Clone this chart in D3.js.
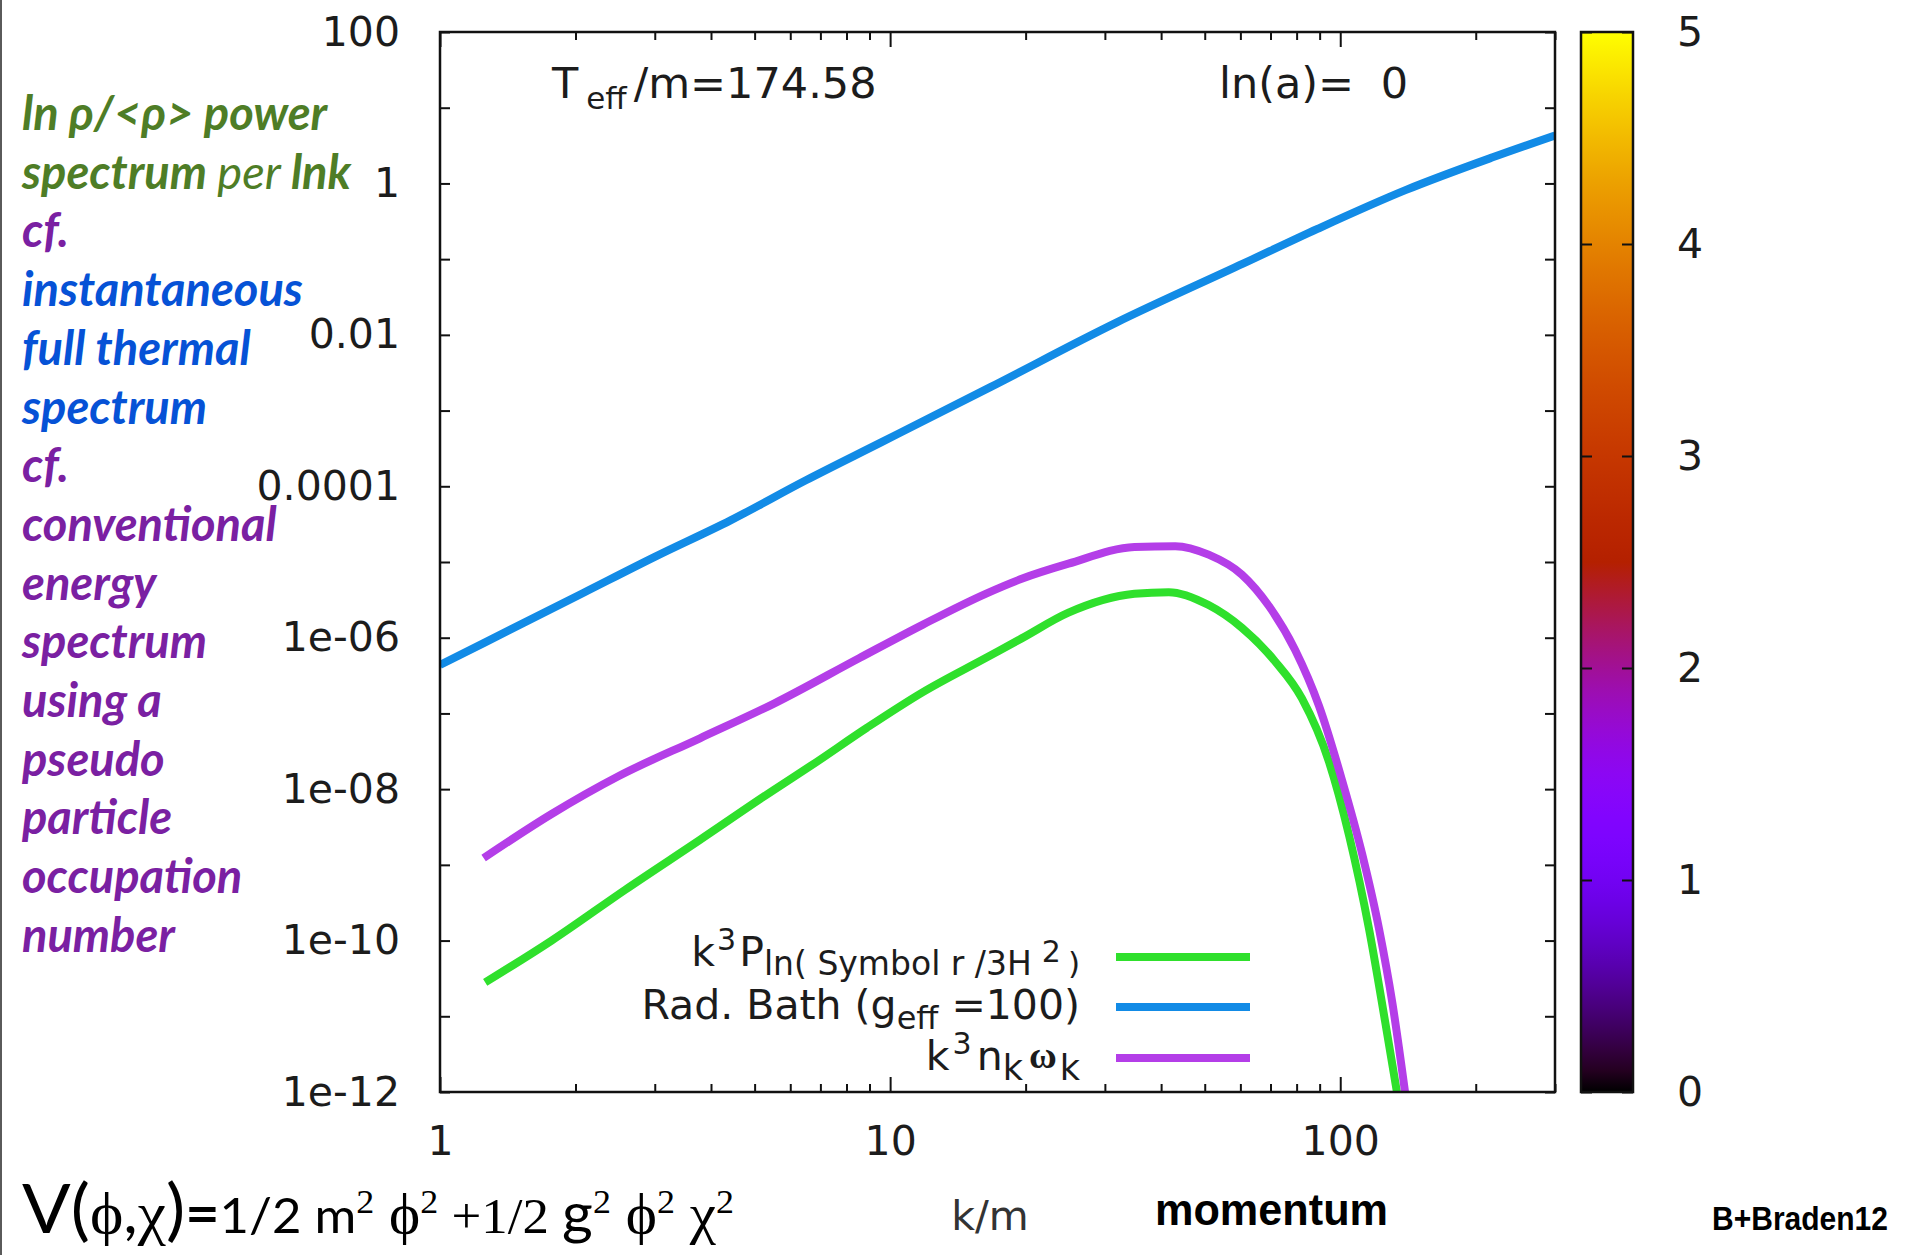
<!DOCTYPE html>
<html>
<head>
<meta charset="utf-8">
<script src="https://cdn.jsdelivr.net/npm/d3@7"></script>
<style>
  body { margin: 0; background: #fff; }
  svg { display: block; }
</style>
</head>
<body>
<svg id="chart" width="1911" height="1255"></svg>
<script>
// Radiation bath spectrum (g_eff = 100) against k/m
const kRad = [1, 1.25, 2.08, 3, 4.42, 6.5, 9.55, 16.7, 31.8, 60.8, 89, 139.6, 218, 300];
const radBath = [4.37e-7, 8.5e-7, 3.9e-6, 1.17e-5, 3.55e-5, 1.2e-4, 3.8e-4, 2.04e-3, 1.45e-2, 8.7e-2, 0.251, 0.815, 2.21, 4.3];

// k^3 n_k omega_k (pseudo-particle occupation)
const kPseudo = [1.25, 1.77, 2.49, 3.78, 5.52, 8.55, 11.8, 16.3, 19.6, 24.9, 34.9, 43, 51, 60.5, 69.5, 79.4, 89.7, 100.9, 112, 122, 130.6, 139.6];
const pseudoSpectrum = [1.23e-9, 4.7e-9, 1.48e-8, 4.7e-8, 1.35e-7, 5.4e-7, 1.48e-6, 3.8e-6, 6.0e-6, 9.5e-6, 1.58e-5, 1.62e-5, 1.25e-5, 6.8e-6, 2.6e-6, 6.9e-7, 1.26e-7, 1.32e-8, 1.35e-9, 1.41e-10, 1.48e-11, 9.1e-13];

// k^3 P of ln(rho / 3H^2)
const kDensity = [1.26, 1.77, 2.58, 3.78, 5.52, 6.67, 8.89, 11.8, 16.3, 19.6, 24.9, 34.9, 41.6, 51, 60.5, 71.6, 82.2, 94.4, 104.7, 115.9, 125.9, 134];
const densitySpectrum = [2.8e-11, 1.0e-10, 4.7e-10, 2.14e-9, 9.8e-9, 2.04e-8, 6.5e-8, 1.9e-7, 5.4e-7, 9.8e-7, 2.14e-6, 3.8e-6, 4.0e-6, 2.7e-6, 1.35e-6, 4.9e-7, 1.58e-7, 2.3e-8, 2.4e-9, 1.41e-10, 8.3e-12, 9.1e-13];

// Axis ticks
const yTicks = [100, 1, 0.01, 1e-4, 1e-6, 1e-8, 1e-10, 1e-12];
const yTickLabels = ["100", "1", "0.01", "0.0001", "1e-06", "1e-08", "1e-10", "1e-12"];
const yMinorTicks = [10, 0.1, 1e-3, 1e-5, 1e-7, 1e-9, 1e-11];
const xTicks = [1, 10, 100];
const xTickLabels = ["1", "10", "100"];
const xMinorTicks = [2, 3, 4, 5, 6, 7, 8, 9, 20, 30, 40, 50, 60, 70, 80, 90, 200, 300];
const cbTicks = [0, 1, 2, 3, 4, 5];

const C_GREEN = "#2fe02c", C_BLUE = "#128be6", C_PURPLE = "#b43ee8";
const TICK_FONT = "'DejaVu Sans', sans-serif";
const TEXT_FILL = "#1c1c1c";

const svg = d3.select("#chart");
svg.append("rect").attr("width", 1911).attr("height", 1255).attr("fill", "#fff");
// slide edge on the left
svg.append("line").attr("x1", 1).attr("x2", 1).attr("y1", 0).attr("y2", 1255)
  .attr("stroke", "#5a5a5a").attr("stroke-width", 2);

const L = 440, R = 1555, T = 32, B = 1092;
const x = d3.scaleLog().domain([1, 300]).range([L, R]);
const y = d3.scaleLog().domain([1e-12, 100]).range([B, T]);

// ---- axes (inward ticks, mirrored) ----
function styleAxis(g) {
  g.select(".domain").remove();
  g.selectAll(".tick line").attr("stroke", "#111").attr("stroke-width", 2);
  g.selectAll(".tick text").attr("fill", TEXT_FILL).style("font-family", TICK_FONT).style("font-size", "41px");
}
svg.append("g").attr("transform", `translate(${L},0)`)
  .call(d3.axisLeft(y).tickValues(yTicks).tickFormat((d, i) => yTickLabels[i]).tickSize(-10).tickPadding(40))
  .call(styleAxis);
svg.append("g").attr("transform", `translate(${L},0)`)
  .call(d3.axisLeft(y).tickValues(yMinorTicks).tickFormat("").tickSize(-10))
  .call(styleAxis);
svg.append("g").attr("transform", `translate(${R},0)`)
  .call(d3.axisRight(y).tickValues(yTicks.concat(yMinorTicks)).tickFormat("").tickSize(-10))
  .call(styleAxis);
svg.append("g").attr("transform", `translate(0,${B})`)
  .call(d3.axisBottom(x).tickValues(xTicks).tickFormat((d, i) => xTickLabels[i]).tickSize(-15).tickPadding(34))
  .call(styleAxis);
svg.append("g").attr("transform", `translate(0,${B})`)
  .call(d3.axisBottom(x).tickValues(xMinorTicks).tickFormat("").tickSize(-8))
  .call(styleAxis);
svg.append("g").attr("transform", `translate(0,${T})`)
  .call(d3.axisTop(x).tickValues(xTicks).tickFormat("").tickSize(-15))
  .call(styleAxis);
svg.append("g").attr("transform", `translate(0,${T})`)
  .call(d3.axisTop(x).tickValues(xMinorTicks).tickFormat("").tickSize(-8))
  .call(styleAxis);

// ---- spectra ----
svg.append("defs").append("clipPath").attr("id", "plotClip")
  .append("rect").attr("x", L).attr("y", T).attr("width", R - L).attr("height", B - T);

const line = d3.line().x(d => x(d[0])).y(d => y(d[1])).curve(d3.curveMonotoneX);
const series = [
  { k: kDensity, v: densitySpectrum, color: C_GREEN },
  { k: kRad, v: radBath, color: C_BLUE },
  { k: kPseudo, v: pseudoSpectrum, color: C_PURPLE }
];
svg.append("g").attr("clip-path", "url(#plotClip)")
  .selectAll("path").data(series).join("path")
  .attr("d", s => line(s.k.map((k, i) => [k, s.v[i]])))
  .attr("fill", "none").attr("stroke", s => s.color)
  .attr("stroke-width", 8).attr("stroke-linejoin", "round");

// frame
svg.append("rect").attr("x", L).attr("y", T).attr("width", R - L).attr("height", B - T)
  .attr("fill", "none").attr("stroke", "#111").attr("stroke-width", 2.5);

// ---- legend ----
const legend = svg.append("g").style("font-family", TICK_FONT).attr("fill", TEXT_FILL);
const legendRows = [
  { y: 957, base: 966, color: C_GREEN, parts: [
      { t: "k", s: 41, dy: 0 }, { t: "3", s: 30, dy: -16, dx: 2 }, { t: "P", s: 41, dy: 16, dx: 3 },
      { t: "ln( Symbol r /3H", s: 33, dy: 9 }, { t: "2", s: 30, dy: -13, dx: 10 }, { t: ")", s: 31, dy: 12, dx: 7 }] },
  { y: 1007, base: 1019, color: C_BLUE, parts: [
      { t: "Rad. Bath (g", s: 41, dy: 0 }, { t: "eff", s: 32, dy: 10 }, { t: " =100)", s: 41, dy: -10 }] },
  { y: 1058, base: 1070, color: C_PURPLE, parts: [
      { t: "k", s: 41, dy: 0 }, { t: "3", s: 30, dy: -16, dx: 3 }, { t: "n", s: 41, dy: 16, dx: 5 },
      { t: "k", s: 35, dy: 10 }, { t: "ω", s: 38, dy: -12, dx: 6, w: "bold", f: "'Liberation Serif', serif" },
      { t: "k", s: 35, dy: 12, dx: 3 }] }
];
legendRows.forEach(row => {
  const t = legend.append("text").attr("x", 1080).attr("y", row.base).attr("text-anchor", "end");
  row.parts.forEach(p => {
    t.append("tspan").text(p.t).attr("dy", p.dy).attr("dx", p.dx || 0).style("font-size", p.s + "px")
      .style("font-weight", p.w || "normal").style("font-family", p.f || TICK_FONT);
  });
  legend.append("line").attr("x1", 1116).attr("x2", 1250).attr("y1", row.y).attr("y2", row.y)
    .attr("stroke", row.color).attr("stroke-width", 8);
});

// ---- annotations inside the plot ----
const ann = svg.append("g").style("font-family", TICK_FONT).attr("fill", TEXT_FILL);
const teff = ann.append("text").attr("x", 552).attr("y", 98).style("font-size", "43px");
teff.append("tspan").text("T");
teff.append("tspan").text("eff").attr("dx", 8).attr("dy", 11).style("font-size", "31px");
teff.append("tspan").text("/m=174.58").attr("dx", 7).attr("dy", -11);
ann.append("text").attr("x", 1219).attr("y", 98).style("font-size", "43px").text("ln(a)=");
ann.append("text").attr("x", 1408).attr("y", 98).attr("text-anchor", "end").style("font-size", "43px").text("0");

// x axis title
ann.append("text").attr("x", 990).attr("y", 1230).attr("text-anchor", "middle")
  .style("font-size", "41px").attr("fill", "#333").text("k/m");

// ---- colour bar ----
const cbL = 1581, cbR = 1633;
const cb = d3.scaleLinear().domain([0, 5]).range([B, T]);
const palette = t => {
  const r = Math.sqrt(t), g = t * t * t, b = Math.max(0, Math.sin(2 * Math.PI * t));
  return d3.rgb(255 * r, 255 * g, 255 * b).formatHex();
};
const grad = svg.select("defs").append("linearGradient").attr("id", "cbGrad")
  .attr("x1", 0).attr("x2", 0).attr("y1", 1).attr("y2", 0);
grad.selectAll("stop").data(d3.range(0, 1.0001, 0.02)).join("stop")
  .attr("offset", d => d).attr("stop-color", d => palette(d));
svg.append("rect").attr("x", cbL).attr("y", T).attr("width", cbR - cbL).attr("height", B - T)
  .attr("fill", "url(#cbGrad)");
svg.append("g").attr("transform", `translate(${cbR},0)`)
  .call(d3.axisRight(cb).tickValues(cbTicks).tickFormat(d3.format("d")).tickSize(-11).tickPadding(44))
  .call(styleAxis);
svg.append("g").attr("transform", `translate(${cbL},0)`)
  .call(d3.axisLeft(cb).tickValues(cbTicks).tickFormat("").tickSize(-11))
  .call(styleAxis);
svg.append("rect").attr("x", cbL).attr("y", T).attr("width", cbR - cbL).attr("height", B - T)
  .attr("fill", "none").attr("stroke", "#111").attr("stroke-width", 2.5);

// ---- side notes ----
const NOTE_FONT = "Lato, 'Open Sans', sans-serif";
const G = "#4e7d26", P = "#7a20a2", BL = "#0652d6";
const noteLines = [
  [{ t: "ln ρ/<ρ> power", c: G }],
  [{ t: "spectrum ", c: G }, { t: "per ", c: G, w: 400 }, { t: "lnk", c: G }],
  [{ t: "cf.", c: P }],
  [{ t: "instantaneous", c: BL }],
  [{ t: "full thermal", c: BL }],
  [{ t: "spectrum", c: BL }],
  [{ t: "cf.", c: P }],
  [{ t: "conventional", c: P }],
  [{ t: "energy", c: P }],
  [{ t: "spectrum", c: P }],
  [{ t: "using a", c: P }],
  [{ t: "pseudo", c: P }],
  [{ t: "particle", c: P }],
  [{ t: "occupation", c: P }],
  [{ t: "number", c: P }]
];
const notes = svg.append("g").style("font-family", NOTE_FONT).style("font-style", "italic")
  .style("font-size", "47px");
noteLines.forEach((parts, i) => {
  const t = notes.append("text").attr("x", 22).attr("y", 130 + i * 58.7);
  parts.forEach(p => t.append("tspan").text(p.t).attr("fill", p.c).style("font-weight", p.w || 700));
});

// ---- potential, caption and credit ----
const SANS = "Lato, 'Open Sans', sans-serif", SERIF = "'Liberation Serif', serif";
const pot = svg.append("text").attr("x", 22).attr("y", 1233).attr("fill", "#000")
  .attr("textLength", 712).attr("lengthAdjust", "spacingAndGlyphs");
[
  { t: "V(", f: SANS, s: 68 }, { t: "ϕ", f: SERIF, s: 60 }, { t: ",", f: SANS, s: 60 },
  { t: "χ", f: SERIF, s: 60 }, { t: ")", f: SANS, s: 68 }, { t: "=", f: SANS, s: 56, w: 700 },
  { t: "1/2 m", f: SANS, s: 48 }, { t: "2", f: SERIF, s: 34, dy: -20 }, { t: " ϕ", f: SERIF, s: 56, dy: 20 },
  { t: "2", f: SERIF, s: 34, dy: -20 }, { t: " +1/2 ", f: SERIF, s: 50, dy: 20 }, { t: "g", f: SANS, s: 56 },
  { t: "2", f: SERIF, s: 34, dy: -20 }, { t: " ϕ", f: SERIF, s: 56, dy: 20 }, { t: "2", f: SERIF, s: 34, dy: -20 },
  { t: " χ", f: SERIF, s: 56, dy: 20 }, { t: "2", f: SERIF, s: 34, dy: -20 }
].forEach(p => pot.append("tspan").text(p.t).attr("dy", p.dy || 0)
  .style("font-family", p.f).style("font-size", p.s + "px").style("font-weight", p.w || 400));

svg.append("text").attr("x", 1155).attr("y", 1225).text("momentum")
  .style("font-family", "'Liberation Sans', Arial, sans-serif").style("font-weight", 700)
  .style("font-size", "44px").attr("textLength", 233).attr("lengthAdjust", "spacingAndGlyphs");
svg.append("text").attr("x", 1712).attr("y", 1230).text("B+Braden12")
  .style("font-family", "'Liberation Sans', Arial, sans-serif").style("font-weight", 700)
  .style("font-size", "34px").attr("textLength", 176).attr("lengthAdjust", "spacingAndGlyphs");
</script>
</body>
</html>
